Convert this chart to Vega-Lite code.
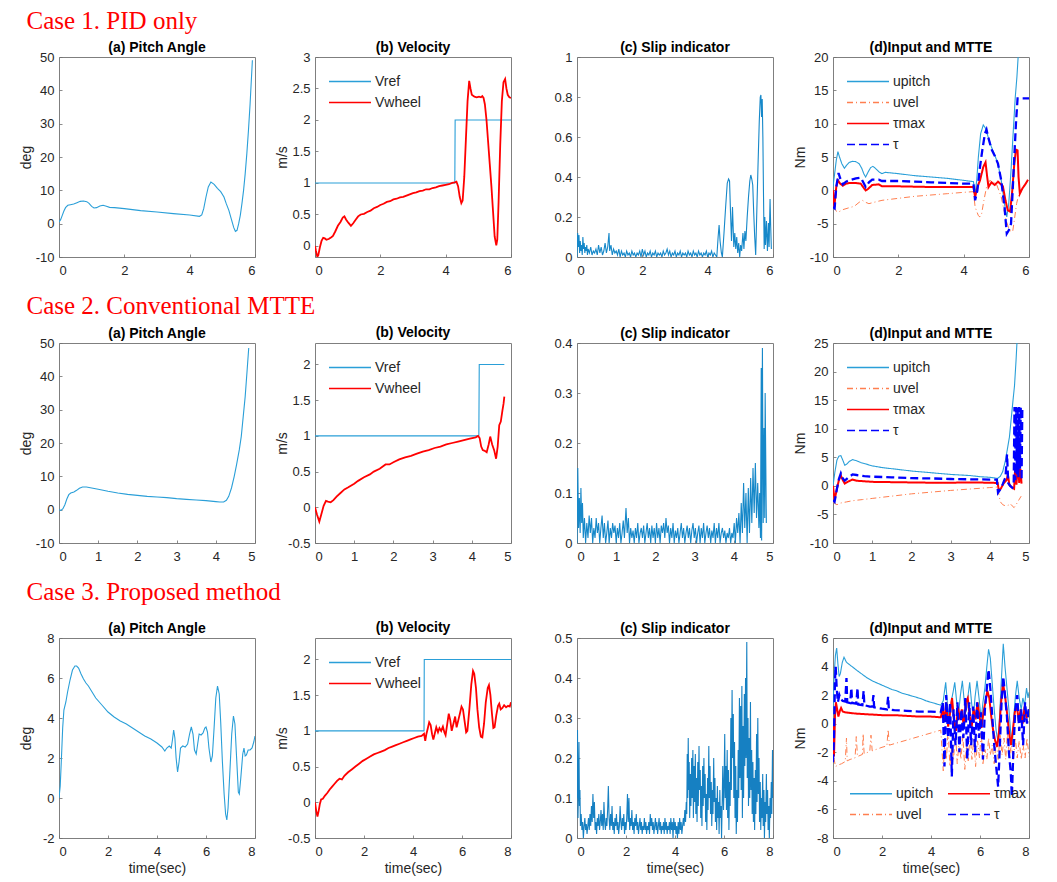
{
"$schema": "https://vega.github.io/schema/vega-lite/v6.json",
"padding": {"left": 18, "top": 8, "right": 5, "bottom": 3},
"background": "white",
"config": {
 "locale": {"number": {"decimal": ".", "thousands": ",", "grouping": [3], "currency": ["$", ""], "minus": "-"}},
 "view": {"stroke": "#7f7f7f", "strokeWidth": 1},
 "axis": {"grid": false, "domain": false, "labelOverlap": false, "tickSize": -3, "tickColor": "#6f6f6f", "tickWidth": 0.8, "labelFont": "Liberation Sans", "labelFontSize": 13, "labelColor": "#262626", "titleFont": "Liberation Sans", "titleFontSize": 14, "titleFontWeight": "normal", "titleColor": "#262626"},
 "axisX": {"labelPadding": 10, "titlePadding": 3},
 "axisY": {"labelPadding": 8, "titlePadding": 1, "minExtent": 25, "maxExtent": 25},
 "title": {"font": "Liberation Sans", "fontSize": 14, "fontWeight": "bold", "color": "#000000", "offset": -4, "frame": "group"},
 "legend": {"symbolType": "M-1,0H3", "symbolSize": 441, "symbolStrokeWidth": 1.6, "labelFont": "Liberation Sans", "labelFontSize": 14, "labelColor": "#262626", "rowPadding": 2, "columnPadding": 10, "labelOffset": 24, "padding": 0, "offset": 13}
},
"datasets": {
 "c1a": [{"t":0,"v":0.5},{"t":0.05,"v":1.2},{"t":0.1,"v":2.5},{"t":0.15,"v":3.8},{"t":0.2,"v":4.8},{"t":0.27,"v":5.5},{"t":0.35,"v":5.7},{"t":0.45,"v":5.9},{"t":0.55,"v":6.3},{"t":0.65,"v":6.7},{"t":0.75,"v":6.8},{"t":0.85,"v":6.6},{"t":0.92,"v":6.1},{"t":1.0,"v":5.2},{"t":1.07,"v":4.7},{"t":1.15,"v":4.8},{"t":1.25,"v":5.3},{"t":1.35,"v":5.5},{"t":1.45,"v":5.2},{"t":1.55,"v":4.9},{"t":1.7,"v":4.8},{"t":2.0,"v":4.5},{"t":2.5,"v":3.9},{"t":3.0,"v":3.5},{"t":3.5,"v":3.0},{"t":4.0,"v":2.6},{"t":4.3,"v":2.2},{"t":4.37,"v":2.6},{"t":4.43,"v":4.5},{"t":4.5,"v":8},{"t":4.57,"v":11},{"t":4.65,"v":12.5},{"t":4.75,"v":11.8},{"t":4.85,"v":10.6},{"t":4.95,"v":9.6},{"t":5.05,"v":8},{"t":5.12,"v":6},{"t":5.2,"v":4},{"t":5.28,"v":1.2},{"t":5.35,"v":-1.2},{"t":5.4,"v":-2.3},{"t":5.45,"v":-2},{"t":5.5,"v":0},{"t":5.55,"v":2.5},{"t":5.6,"v":6},{"t":5.65,"v":10},{"t":5.7,"v":15},{"t":5.75,"v":21},{"t":5.8,"v":28},{"t":5.85,"v":36},{"t":5.92,"v":49}],
 "c1vr": [{"t":0,"v":1},{"t":4.28,"v":1},{"t":4.29,"v":2},{"t":6,"v":2}],
 "c1vw": [{"t":0,"v":0},{"t":0.03,"v":-0.08},{"t":0.07,"v":-0.17},{"t":0.1,"v":-0.15},{"t":0.15,"v":-0.02},{"t":0.2,"v":0.08},{"t":0.25,"v":0.13},{"t":0.3,"v":0.12},{"t":0.35,"v":0.1},{"t":0.42,"v":0.11},{"t":0.5,"v":0.14},{"t":0.55,"v":0.16},{"t":0.62,"v":0.23},{"t":0.7,"v":0.32},{"t":0.78,"v":0.38},{"t":0.85,"v":0.45},{"t":0.9,"v":0.47},{"t":0.95,"v":0.42},{"t":1.02,"v":0.37},{"t":1.1,"v":0.32},{"t":1.17,"v":0.36},{"t":1.25,"v":0.42},{"t":1.32,"v":0.47},{"t":1.4,"v":0.5},{"t":1.5,"v":0.51},{"t":1.6,"v":0.54},{"t":1.7,"v":0.56},{"t":1.8,"v":0.6},{"t":1.9,"v":0.62},{"t":2.0,"v":0.65},{"t":2.1,"v":0.67},{"t":2.2,"v":0.7},{"t":2.3,"v":0.71},{"t":2.4,"v":0.74},{"t":2.5,"v":0.75},{"t":2.6,"v":0.77},{"t":2.7,"v":0.78},{"t":2.8,"v":0.8},{"t":2.9,"v":0.82},{"t":3.0,"v":0.84},{"t":3.1,"v":0.85},{"t":3.2,"v":0.87},{"t":3.3,"v":0.88},{"t":3.4,"v":0.9},{"t":3.5,"v":0.9},{"t":3.6,"v":0.92},{"t":3.7,"v":0.93},{"t":3.8,"v":0.95},{"t":3.9,"v":0.96},{"t":4.0,"v":0.97},{"t":4.1,"v":0.98},{"t":4.2,"v":1.0},{"t":4.28,"v":1.01},{"t":4.33,"v":1.02},{"t":4.38,"v":0.95},{"t":4.43,"v":0.78},{"t":4.48,"v":0.68},{"t":4.52,"v":0.72},{"t":4.57,"v":1.1},{"t":4.62,"v":1.7},{"t":4.67,"v":2.3},{"t":4.72,"v":2.62},{"t":4.76,"v":2.5},{"t":4.8,"v":2.4},{"t":4.88,"v":2.37},{"t":4.95,"v":2.36},{"t":5.02,"v":2.37},{"t":5.08,"v":2.36},{"t":5.12,"v":2.38},{"t":5.16,"v":2.35},{"t":5.2,"v":2.25},{"t":5.25,"v":2.0},{"t":5.3,"v":1.65},{"t":5.35,"v":1.3},{"t":5.4,"v":0.95},{"t":5.45,"v":0.55},{"t":5.5,"v":0.15},{"t":5.55,"v":0.01},{"t":5.58,"v":0.1},{"t":5.62,"v":0.7},{"t":5.67,"v":1.6},{"t":5.72,"v":2.3},{"t":5.77,"v":2.6},{"t":5.82,"v":2.65},{"t":5.86,"v":2.5},{"t":5.9,"v":2.4},{"t":5.95,"v":2.36},{"t":6.0,"v":2.35}],
 "c1s": [{"t":0,"v":0},{"t":0.02,"v":0.12},{"t":0.04,"v":0.05},{"t":0.06,"v":0.11},{"t":0.08,"v":0.02},{"t":0.1,"v":0.08},{"t":0.12,"v":0.03},{"t":0.14,"v":0.06},{"t":0.16,"v":0.01},{"t":0.18,"v":0.1},{"t":0.2,"v":0.04},{"t":0.22,"v":0.07},{"t":0.24,"v":0.02},{"t":0.26,"v":0.05},{"t":0.28,"v":0.03},{"t":0.3,"v":0.06},{"t":0.32,"v":0.01},{"t":0.34,"v":0.04},{"t":0.38,"v":0.02},{"t":0.42,"v":0.05},{"t":0.46,"v":0.01},{"t":0.5,"v":0.03},{"t":0.54,"v":0.02},{"t":0.58,"v":0.04},{"t":0.62,"v":0.01},{"t":0.66,"v":0.06},{"t":0.7,"v":0.02},{"t":0.74,"v":0.05},{"t":0.78,"v":0.01},{"t":0.82,"v":0.03},{"t":0.86,"v":0.07},{"t":0.9,"v":0.02},{"t":0.94,"v":0.05},{"t":0.98,"v":0.12},{"t":1.0,"v":0.03},{"t":1.04,"v":0.06},{"t":1.08,"v":0.01},{"t":1.12,"v":0.04},{"t":1.16,"v":0.02},{"t":1.2,"v":0.03},{"t":1.24,"v":0.01},{"t":1.28,"v":0.04},{"t":1.32,"v":0},{"t":1.36,"v":0.03},{"t":1.4,"v":0.01},{"t":1.44,"v":0.02},{"t":1.48,"v":0},{"t":1.52,"v":0.03},{"t":1.56,"v":0.01},{"t":1.6,"v":0.02},{"t":1.64,"v":0},{"t":1.68,"v":0.03},{"t":1.72,"v":0.01},{"t":1.76,"v":0.02},{"t":1.8,"v":0},{"t":1.84,"v":0.02},{"t":1.88,"v":0.01},{"t":1.92,"v":0.03},{"t":1.96,"v":0},{"t":2.0,"v":0.04},{"t":2.04,"v":0.01},{"t":2.08,"v":0.03},{"t":2.12,"v":0},{"t":2.16,"v":0.02},{"t":2.2,"v":0.01},{"t":2.24,"v":0.03},{"t":2.28,"v":0},{"t":2.32,"v":0.02},{"t":2.36,"v":0.01},{"t":2.4,"v":0.03},{"t":2.44,"v":0},{"t":2.48,"v":0.02},{"t":2.52,"v":0.01},{"t":2.56,"v":0.02},{"t":2.6,"v":0},{"t":2.64,"v":0.03},{"t":2.68,"v":0.01},{"t":2.72,"v":0.02},{"t":2.76,"v":0.04},{"t":2.8,"v":0.01},{"t":2.84,"v":0.03},{"t":2.88,"v":0},{"t":2.92,"v":0.02},{"t":2.96,"v":0.01},{"t":3.0,"v":0.03},{"t":3.04,"v":0},{"t":3.08,"v":0.02},{"t":3.12,"v":0.01},{"t":3.16,"v":0.03},{"t":3.2,"v":0},{"t":3.24,"v":0.02},{"t":3.28,"v":0.01},{"t":3.32,"v":0.02},{"t":3.36,"v":0},{"t":3.4,"v":0.03},{"t":3.44,"v":0.01},{"t":3.48,"v":0.02},{"t":3.52,"v":0},{"t":3.56,"v":0.03},{"t":3.6,"v":0.01},{"t":3.64,"v":0.02},{"t":3.68,"v":0},{"t":3.72,"v":0.03},{"t":3.76,"v":0.01},{"t":3.8,"v":0.02},{"t":3.84,"v":0},{"t":3.88,"v":0.02},{"t":3.92,"v":0.01},{"t":3.96,"v":0.03},{"t":4.0,"v":0},{"t":4.04,"v":0.02},{"t":4.08,"v":0.01},{"t":4.12,"v":0.03},{"t":4.16,"v":0},{"t":4.2,"v":0.02},{"t":4.24,"v":0.01},{"t":4.28,"v":0},{"t":4.32,"v":0.1},{"t":4.35,"v":0.16},{"t":4.38,"v":0.08},{"t":4.42,"v":0.02},{"t":4.45,"v":0},{"t":4.5,"v":0.12},{"t":4.55,"v":0.25},{"t":4.6,"v":0.37},{"t":4.64,"v":0.39},{"t":4.67,"v":0.38},{"t":4.7,"v":0.22},{"t":4.73,"v":0.08},{"t":4.76,"v":0.25},{"t":4.78,"v":0.15},{"t":4.8,"v":0.05},{"t":4.83,"v":0.12},{"t":4.86,"v":0.04},{"t":4.89,"v":0.1},{"t":4.92,"v":0.02},{"t":4.95,"v":0.07},{"t":4.98,"v":0},{"t":5.01,"v":0.06},{"t":5.04,"v":0.03},{"t":5.08,"v":0.12},{"t":5.11,"v":0.04},{"t":5.14,"v":0.13},{"t":5.17,"v":0.08},{"t":5.21,"v":0.2},{"t":5.25,"v":0.3},{"t":5.29,"v":0.38},{"t":5.32,"v":0.41},{"t":5.35,"v":0.39},{"t":5.38,"v":0.36},{"t":5.41,"v":0.22},{"t":5.44,"v":0.1},{"t":5.47,"v":0.01},{"t":5.5,"v":0.2},{"t":5.54,"v":0.45},{"t":5.58,"v":0.68},{"t":5.61,"v":0.8},{"t":5.63,"v":0.81},{"t":5.65,"v":0.7},{"t":5.67,"v":0.79},{"t":5.69,"v":0.6},{"t":5.71,"v":0.3},{"t":5.73,"v":0.04},{"t":5.75,"v":0.2},{"t":5.77,"v":0.06},{"t":5.8,"v":0.18},{"t":5.83,"v":0.03},{"t":5.86,"v":0.17},{"t":5.88,"v":0.05},{"t":5.91,"v":0.29},{"t":5.93,"v":0.15},{"t":5.95,"v":0.04}],
 "c1up": [{"t":0,"v":0.5},{"t":0.05,"v":2.5},{"t":0.1,"v":4.5},{"t":0.15,"v":5.8},{"t":0.2,"v":5.0},{"t":0.27,"v":4.0},{"t":0.35,"v":3.3},{"t":0.42,"v":3.8},{"t":0.5,"v":4.2},{"t":0.6,"v":4.35},{"t":0.7,"v":4.3},{"t":0.8,"v":4.0},{"t":0.88,"v":3.3},{"t":0.95,"v":2.4},{"t":1.0,"v":2.0},{"t":1.07,"v":2.7},{"t":1.15,"v":3.4},{"t":1.22,"v":3.6},{"t":1.3,"v":3.3},{"t":1.4,"v":2.8},{"t":1.5,"v":2.5},{"t":1.6,"v":2.7},{"t":1.8,"v":2.6},{"t":2.0,"v":2.5},{"t":2.5,"v":2.2},{"t":3.0,"v":2.0},{"t":3.5,"v":1.8},{"t":4.0,"v":1.5},{"t":4.3,"v":1.3},{"t":4.35,"v":-0.5},{"t":4.4,"v":1.5},{"t":4.45,"v":5},{"t":4.52,"v":8.5},{"t":4.6,"v":9.8},{"t":4.67,"v":9.3},{"t":4.75,"v":8},{"t":4.85,"v":6.5},{"t":4.95,"v":5.3},{"t":5.05,"v":4},{"t":5.15,"v":1.5},{"t":5.25,"v":-2},{"t":5.32,"v":-4},{"t":5.38,"v":-2},{"t":5.45,"v":3},{"t":5.52,"v":9},{"t":5.58,"v":14},{"t":5.63,"v":17},{"t":5.68,"v":21},{"t":5.75,"v":26}],
 "c1uv": [{"t":0,"v":-2.5},{"t":0.08,"v":-3.0},{"t":0.15,"v":-3.3},{"t":0.3,"v":-2.9},{"t":0.5,"v":-2.6},{"t":0.65,"v":-2.4},{"t":0.8,"v":-1.8},{"t":0.9,"v":-1.5},{"t":1.0,"v":-1.8},{"t":1.1,"v":-2.0},{"t":1.25,"v":-1.8},{"t":1.5,"v":-1.5},{"t":2.0,"v":-1.2},{"t":2.5,"v":-0.9},{"t":3.0,"v":-0.7},{"t":3.5,"v":-0.5},{"t":4.0,"v":-0.3},{"t":4.3,"v":-0.2},{"t":4.35,"v":-2.5},{"t":4.45,"v":-3.8},{"t":4.5,"v":-4.0},{"t":4.55,"v":-3.5},{"t":4.62,"v":-1.5},{"t":4.7,"v":0.5},{"t":4.8,"v":1.5},{"t":5.0,"v":1.0},{"t":5.15,"v":-1},{"t":5.3,"v":-4.5},{"t":5.4,"v":-6},{"t":5.5,"v":-6.2},{"t":5.55,"v":-4.5},{"t":5.62,"v":-2},{"t":5.7,"v":-0.3}],
 "c1tm": [{"t":0,"v":0},{"t":0.04,"v":-2.5},{"t":0.1,"v":0.5},{"t":0.15,"v":1.5},{"t":0.22,"v":1.0},{"t":0.3,"v":0.7},{"t":0.4,"v":1.0},{"t":0.5,"v":1.1},{"t":0.7,"v":1.1},{"t":0.85,"v":1.0},{"t":0.95,"v":0.3},{"t":1.0,"v":0},{"t":1.07,"v":0.2},{"t":1.2,"v":0.8},{"t":1.4,"v":0.9},{"t":1.5,"v":0.6},{"t":2.0,"v":0.6},{"t":2.5,"v":0.55},{"t":3.0,"v":0.5},{"t":3.5,"v":0.5},{"t":4.0,"v":0.5},{"t":4.3,"v":0.5},{"t":4.35,"v":-1},{"t":4.42,"v":0.5},{"t":4.5,"v":1.5},{"t":4.6,"v":3.5},{"t":4.67,"v":4.2},{"t":4.72,"v":2},{"t":4.76,"v":0.5},{"t":4.85,"v":1.2},{"t":4.95,"v":0.8},{"t":5.05,"v":1.3},{"t":5.12,"v":1.0},{"t":5.2,"v":0.6},{"t":5.28,"v":-1.5},{"t":5.35,"v":-3},{"t":5.42,"v":-3.2},{"t":5.48,"v":-0.5},{"t":5.55,"v":4},{"t":5.6,"v":6.1},{"t":5.65,"v":6.0},{"t":5.68,"v":2},{"t":5.72,"v":-0.5},{"t":5.8,"v":0.3},{"t":5.9,"v":1.0},{"t":5.97,"v":1.6}],
 "c1ta": [{"t":0,"v":-2.5},{"t":0.05,"v":-2.7},{"t":0.1,"v":0.5},{"t":0.17,"v":2.6},{"t":0.22,"v":1.8},{"t":0.3,"v":0.9},{"t":0.4,"v":1.3},{"t":0.5,"v":1.5},{"t":0.7,"v":1.8},{"t":0.85,"v":1.9},{"t":0.95,"v":1.0},{"t":1.0,"v":0.5},{"t":1.1,"v":1.2},{"t":1.2,"v":1.6},{"t":1.4,"v":1.6},{"t":1.5,"v":1.4},{"t":2.0,"v":1.4},{"t":2.5,"v":1.3},{"t":3.0,"v":1.2},{"t":3.5,"v":1.1},{"t":4.0,"v":1.0},{"t":4.3,"v":1.0},{"t":4.35,"v":-1.5},{"t":4.42,"v":0},{"t":4.5,"v":3.5},{"t":4.57,"v":6},{"t":4.65,"v":8.5},{"t":4.7,"v":9.1},{"t":4.75,"v":8},{"t":4.85,"v":6.2},{"t":4.95,"v":5.2},{"t":5.05,"v":4},{"t":5.15,"v":1.5},{"t":5.25,"v":-2.5},{"t":5.32,"v":-6.5},{"t":5.38,"v":-6},{"t":5.45,"v":-5},{"t":5.5,"v":0},{"t":5.55,"v":5},{"t":5.6,"v":10},{"t":5.65,"v":13.8},{"t":6.0,"v":13.8}],
 "c2a": [{"t":0,"v":0},{"t":0.05,"v":-0.2},{"t":0.1,"v":0.3},{"t":0.15,"v":1.5},{"t":0.2,"v":3.2},{"t":0.25,"v":4.5},{"t":0.3,"v":5.0},{"t":0.38,"v":5.3},{"t":0.45,"v":5.8},{"t":0.52,"v":6.4},{"t":0.6,"v":6.8},{"t":0.7,"v":6.8},{"t":0.8,"v":6.6},{"t":1.0,"v":6.1},{"t":1.25,"v":5.5},{"t":1.5,"v":5.0},{"t":1.75,"v":4.6},{"t":2.0,"v":4.3},{"t":2.25,"v":4.0},{"t":2.5,"v":3.8},{"t":2.75,"v":3.6},{"t":3.0,"v":3.3},{"t":3.25,"v":3.1},{"t":3.5,"v":2.9},{"t":3.75,"v":2.7},{"t":4.0,"v":2.4},{"t":4.1,"v":2.3},{"t":4.2,"v":2.3},{"t":4.27,"v":2.8},{"t":4.33,"v":4},{"t":4.4,"v":6.5},{"t":4.47,"v":10},{"t":4.53,"v":13.5},{"t":4.6,"v":18},{"t":4.65,"v":22},{"t":4.7,"v":28},{"t":4.75,"v":34},{"t":4.8,"v":42},{"t":4.84,"v":48.5}],
 "c2vr": [{"t":0,"v":1},{"t":4.18,"v":1},{"t":4.19,"v":2},{"t":4.83,"v":2}],
 "c2vw": [{"t":0,"v":0},{"t":0.05,"v":-0.1},{"t":0.11,"v":-0.2},{"t":0.16,"v":-0.1},{"t":0.22,"v":0.02},{"t":0.28,"v":0.09},{"t":0.33,"v":0.08},{"t":0.4,"v":0.07},{"t":0.47,"v":0.1},{"t":0.55,"v":0.15},{"t":0.65,"v":0.2},{"t":0.75,"v":0.25},{"t":0.85,"v":0.28},{"t":1.0,"v":0.33},{"t":1.1,"v":0.37},{"t":1.25,"v":0.42},{"t":1.4,"v":0.46},{"t":1.5,"v":0.5},{"t":1.65,"v":0.54},{"t":1.8,"v":0.6},{"t":1.9,"v":0.6},{"t":2.0,"v":0.63},{"t":2.15,"v":0.67},{"t":2.3,"v":0.7},{"t":2.45,"v":0.72},{"t":2.6,"v":0.75},{"t":2.75,"v":0.78},{"t":2.9,"v":0.8},{"t":3.05,"v":0.83},{"t":3.2,"v":0.85},{"t":3.35,"v":0.88},{"t":3.5,"v":0.9},{"t":3.65,"v":0.92},{"t":3.8,"v":0.94},{"t":3.95,"v":0.96},{"t":4.1,"v":0.98},{"t":4.16,"v":1.0},{"t":4.2,"v":0.97},{"t":4.24,"v":0.85},{"t":4.28,"v":0.8},{"t":4.33,"v":0.79},{"t":4.38,"v":0.77},{"t":4.43,"v":0.88},{"t":4.47,"v":0.99},{"t":4.52,"v":0.88},{"t":4.57,"v":0.8},{"t":4.62,"v":0.68},{"t":4.66,"v":0.85},{"t":4.7,"v":1.15},{"t":4.74,"v":1.2},{"t":4.78,"v":1.35},{"t":4.81,"v":1.45},{"t":4.83,"v":1.55}],
 "c2s": [{"t":0,"v":0},{"t":0.02,"v":0.15},{"t":0.04,"v":0.03},{"t":0.06,"v":0.09},{"t":0.08,"v":0.02},{"t":0.1,"v":0.11},{"t":0.12,"v":0.04},{"t":0.14,"v":0.08},{"t":0.16,"v":0.01},{"t":0.19,"v":0.05},{"t":0.22,"v":0},{"t":0.25,"v":0.04},{"t":0.28,"v":0.01},{"t":0.31,"v":0.055},{"t":0.34,"v":0.02},{"t":0.37,"v":0.05},{"t":0.4,"v":0},{"t":0.43,"v":0.03},{"t":0.46,"v":0.01},{"t":0.49,"v":0.05},{"t":0.52,"v":0.02},{"t":0.55,"v":0.04},{"t":0.58,"v":0},{"t":0.61,"v":0.03},{"t":0.64,"v":0.055},{"t":0.67,"v":0.01},{"t":0.7,"v":0.04},{"t":0.73,"v":0},{"t":0.76,"v":0.02},{"t":0.79,"v":0.045},{"t":0.82,"v":0},{"t":0.85,"v":0.03},{"t":0.88,"v":0.01},{"t":0.91,"v":0.04},{"t":0.94,"v":0.02},{"t":0.97,"v":0.035},{"t":1.0,"v":0},{"t":1.03,"v":0.03},{"t":1.06,"v":0.01},{"t":1.09,"v":0.04},{"t":1.12,"v":0},{"t":1.15,"v":0.02},{"t":1.18,"v":0.045},{"t":1.21,"v":0.01},{"t":1.25,"v":0.07},{"t":1.28,"v":0.02},{"t":1.31,"v":0.05},{"t":1.34,"v":0},{"t":1.37,"v":0.03},{"t":1.4,"v":0.01},{"t":1.43,"v":0.025},{"t":1.46,"v":0},{"t":1.49,"v":0.03},{"t":1.52,"v":0.01},{"t":1.55,"v":0.04},{"t":1.58,"v":0},{"t":1.61,"v":0.02},{"t":1.64,"v":0.03},{"t":1.67,"v":0.01},{"t":1.7,"v":0.035},{"t":1.73,"v":0},{"t":1.76,"v":0.02},{"t":1.79,"v":0.04},{"t":1.82,"v":0.01},{"t":1.85,"v":0.03},{"t":1.88,"v":0},{"t":1.91,"v":0.035},{"t":1.94,"v":0.01},{"t":1.97,"v":0.03},{"t":2.0,"v":0},{"t":2.03,"v":0.04},{"t":2.06,"v":0.01},{"t":2.09,"v":0.03},{"t":2.12,"v":0},{"t":2.15,"v":0.035},{"t":2.18,"v":0.02},{"t":2.21,"v":0.04},{"t":2.24,"v":0.01},{"t":2.27,"v":0.05},{"t":2.3,"v":0.02},{"t":2.33,"v":0.035},{"t":2.36,"v":0},{"t":2.39,"v":0.03},{"t":2.42,"v":0.01},{"t":2.45,"v":0.04},{"t":2.48,"v":0},{"t":2.51,"v":0.025},{"t":2.54,"v":0.01},{"t":2.57,"v":0.03},{"t":2.6,"v":0},{"t":2.63,"v":0.02},{"t":2.66,"v":0.04},{"t":2.69,"v":0.01},{"t":2.72,"v":0.03},{"t":2.75,"v":0},{"t":2.78,"v":0.02},{"t":2.81,"v":0.035},{"t":2.84,"v":0.01},{"t":2.87,"v":0.03},{"t":2.9,"v":0},{"t":2.93,"v":0.025},{"t":2.96,"v":0.04},{"t":2.99,"v":0.01},{"t":3.02,"v":0.03},{"t":3.05,"v":0},{"t":3.08,"v":0.02},{"t":3.11,"v":0.035},{"t":3.14,"v":0},{"t":3.17,"v":0.03},{"t":3.2,"v":0.01},{"t":3.23,"v":0.04},{"t":3.26,"v":0},{"t":3.29,"v":0.02},{"t":3.32,"v":0.035},{"t":3.35,"v":0.01},{"t":3.38,"v":0.03},{"t":3.41,"v":0},{"t":3.44,"v":0.025},{"t":3.47,"v":0.01},{"t":3.5,"v":0.04},{"t":3.53,"v":0},{"t":3.56,"v":0.03},{"t":3.59,"v":0.01},{"t":3.62,"v":0.04},{"t":3.65,"v":0},{"t":3.68,"v":0.02},{"t":3.71,"v":0.03},{"t":3.74,"v":0.01},{"t":3.77,"v":0.025},{"t":3.8,"v":0},{"t":3.83,"v":0.02},{"t":3.86,"v":0.01},{"t":3.89,"v":0.03},{"t":3.92,"v":0},{"t":3.95,"v":0.02},{"t":3.98,"v":0.01},{"t":4.01,"v":0.04},{"t":4.04,"v":0},{"t":4.07,"v":0.05},{"t":4.1,"v":0.02},{"t":4.13,"v":0.06},{"t":4.16,"v":0},{"t":4.19,"v":0.08},{"t":4.22,"v":0.02},{"t":4.25,"v":0.12},{"t":4.28,"v":0.03},{"t":4.31,"v":0.1},{"t":4.34,"v":0},{"t":4.37,"v":0.11},{"t":4.4,"v":0.02},{"t":4.43,"v":0.13},{"t":4.46,"v":0.04},{"t":4.49,"v":0.15},{"t":4.52,"v":0.06},{"t":4.55,"v":0.16},{"t":4.58,"v":0.05},{"t":4.61,"v":0.12},{"t":4.64,"v":0.03},{"t":4.66,"v":0.1},{"t":4.68,"v":0.01},{"t":4.7,"v":0.35},{"t":4.71,"v":0.005},{"t":4.73,"v":0.39},{"t":4.75,"v":0.04},{"t":4.77,"v":0.23},{"t":4.79,"v":0.05},{"t":4.8,"v":0.3},{"t":4.83,"v":0.04}],
 "c2up": [{"t":0,"v":0},{"t":0.05,"v":2.5},{"t":0.1,"v":4.5},{"t":0.15,"v":5.2},{"t":0.2,"v":5.3},{"t":0.25,"v":4.5},{"t":0.3,"v":3.6},{"t":0.35,"v":3.8},{"t":0.42,"v":4.3},{"t":0.5,"v":4.6},{"t":0.6,"v":4.4},{"t":0.7,"v":4.1},{"t":0.85,"v":3.8},{"t":1.0,"v":3.5},{"t":1.25,"v":3.2},{"t":1.5,"v":3.0},{"t":1.75,"v":2.8},{"t":2.0,"v":2.6},{"t":2.25,"v":2.45},{"t":2.5,"v":2.3},{"t":2.75,"v":2.15},{"t":3.0,"v":2.0},{"t":3.25,"v":1.9},{"t":3.5,"v":1.8},{"t":3.75,"v":1.6},{"t":4.0,"v":1.5},{"t":4.2,"v":1.3},{"t":4.27,"v":1.7},{"t":4.33,"v":2.5},{"t":4.4,"v":4.5},{"t":4.45,"v":6.5},{"t":4.5,"v":8.5},{"t":4.55,"v":12},{"t":4.6,"v":15.5},{"t":4.63,"v":17.5},{"t":4.67,"v":22},{"t":4.7,"v":26}],
 "c2uv": [{"t":0,"v":-2.8},{"t":0.05,"v":-3.1},{"t":0.1,"v":-3.3},{"t":0.2,"v":-3.0},{"t":0.35,"v":-2.8},{"t":0.5,"v":-2.6},{"t":0.75,"v":-2.4},{"t":1.0,"v":-2.2},{"t":1.5,"v":-1.8},{"t":2.0,"v":-1.4},{"t":2.5,"v":-1.1},{"t":3.0,"v":-0.8},{"t":3.5,"v":-0.55},{"t":4.0,"v":-0.3},{"t":4.2,"v":-0.2},{"t":4.23,"v":-1.5},{"t":4.27,"v":-2.8},{"t":4.33,"v":-3.3},{"t":4.4,"v":-3.5},{"t":4.47,"v":-3.4},{"t":4.52,"v":-3.1},{"t":4.57,"v":-3.5},{"t":4.62,"v":-3.8},{"t":4.67,"v":-3.3},{"t":4.73,"v":-2.6},{"t":4.8,"v":-1.8}],
 "c2tm": [{"t":0,"v":0},{"t":0.04,"v":-2.5},{"t":0.1,"v":-0.5},{"t":0.15,"v":1.0},{"t":0.2,"v":1.8},{"t":0.25,"v":1.0},{"t":0.3,"v":0.4},{"t":0.4,"v":0.8},{"t":0.5,"v":1.1},{"t":0.6,"v":0.9},{"t":0.8,"v":0.8},{"t":1.0,"v":0.7},{"t":1.5,"v":0.65},{"t":2.0,"v":0.6},{"t":2.5,"v":0.55},{"t":3.0,"v":0.55},{"t":3.5,"v":0.6},{"t":4.0,"v":0.55},{"t":4.2,"v":0.5},{"t":4.23,"v":-0.8},{"t":4.28,"v":-0.5},{"t":4.35,"v":0.4},{"t":4.43,"v":1.0},{"t":4.46,"v":2.0},{"t":4.5,"v":0.2},{"t":4.57,"v":-0.3},{"t":4.62,"v":-0.5},{"t":4.65,"v":3.5},{"t":4.68,"v":0.2},{"t":4.72,"v":4.2},{"t":4.75,"v":0.5},{"t":4.78,"v":3},{"t":4.81,"v":0.4}],
 "c2ta": [{"t":0,"v":-2.5},{"t":0.04,"v":-2.8},{"t":0.1,"v":-0.5},{"t":0.15,"v":1.2},{"t":0.2,"v":2.2},{"t":0.25,"v":1.3},{"t":0.3,"v":0.9},{"t":0.4,"v":1.5},{"t":0.5,"v":2.0},{"t":0.6,"v":1.9},{"t":0.8,"v":1.7},{"t":1.0,"v":1.6},{"t":1.5,"v":1.5},{"t":2.0,"v":1.35},{"t":2.5,"v":1.3},{"t":3.0,"v":1.2},{"t":3.5,"v":1.15},{"t":4.0,"v":1.1},{"t":4.18,"v":1.1},{"t":4.21,"v":-1.2},{"t":4.27,"v":-0.6},{"t":4.33,"v":0.3},{"t":4.4,"v":1.5},{"t":4.44,"v":5.5},{"t":4.47,"v":0.5},{"t":4.52,"v":0},{"t":4.57,"v":-0.3},{"t":4.61,"v":0.5},{"t":4.63,"v":13.8},{"t":4.65,"v":1},{"t":4.67,"v":13.8},{"t":4.69,"v":2},{"t":4.71,"v":13.8},{"t":4.73,"v":1.5},{"t":4.75,"v":13.8},{"t":4.77,"v":3},{"t":4.79,"v":13.8},{"t":4.81,"v":1},{"t":4.83,"v":13.8}],
 "c3a": [{"t":0,"v":0},{"t":0.05,"v":0.6},{"t":0.1,"v":2.0},{"t":0.15,"v":3.5},{"t":0.2,"v":4.4},{"t":0.28,"v":4.8},{"t":0.35,"v":5.3},{"t":0.45,"v":5.9},{"t":0.55,"v":6.4},{"t":0.65,"v":6.6},{"t":0.72,"v":6.6},{"t":0.8,"v":6.5},{"t":0.9,"v":6.2},{"t":1.0,"v":5.95},{"t":1.1,"v":5.75},{"t":1.2,"v":5.6},{"t":1.35,"v":5.3},{"t":1.5,"v":5.0},{"t":1.75,"v":4.65},{"t":2.0,"v":4.3},{"t":2.25,"v":4.05},{"t":2.5,"v":3.85},{"t":2.75,"v":3.7},{"t":3.0,"v":3.5},{"t":3.25,"v":3.3},{"t":3.5,"v":3.1},{"t":3.75,"v":2.95},{"t":4.0,"v":2.75},{"t":4.2,"v":2.55},{"t":4.32,"v":2.35},{"t":4.4,"v":2.5},{"t":4.5,"v":2.6},{"t":4.58,"v":2.5},{"t":4.63,"v":2.9},{"t":4.68,"v":3.4},{"t":4.73,"v":3.0},{"t":4.78,"v":2.0},{"t":4.84,"v":1.3},{"t":4.9,"v":1.8},{"t":4.96,"v":2.5},{"t":5.05,"v":2.6},{"t":5.15,"v":2.55},{"t":5.25,"v":2.7},{"t":5.33,"v":3.2},{"t":5.4,"v":3.55},{"t":5.47,"v":3.2},{"t":5.53,"v":2.4},{"t":5.6,"v":2.2},{"t":5.66,"v":2.7},{"t":5.72,"v":3.2},{"t":5.8,"v":3.15},{"t":5.88,"v":3.25},{"t":5.95,"v":3.5},{"t":6.0,"v":3.55},{"t":6.06,"v":3.3},{"t":6.12,"v":2.5},{"t":6.2,"v":1.8},{"t":6.26,"v":2.1},{"t":6.33,"v":3.5},{"t":6.4,"v":5.0},{"t":6.47,"v":5.6},{"t":6.54,"v":5.2},{"t":6.6,"v":3.8},{"t":6.67,"v":1.8},{"t":6.74,"v":0.2},{"t":6.8,"v":-0.8},{"t":6.85,"v":-1.1},{"t":6.9,"v":-0.5},{"t":6.97,"v":1.2},{"t":7.05,"v":3.2},{"t":7.12,"v":4.1},{"t":7.18,"v":3.7},{"t":7.25,"v":2.0},{"t":7.32,"v":0.3},{"t":7.36,"v":0.2},{"t":7.42,"v":1.0},{"t":7.5,"v":2.2},{"t":7.55,"v":2.5},{"t":7.6,"v":2.1},{"t":7.65,"v":2.15},{"t":7.72,"v":2.4},{"t":7.8,"v":2.4},{"t":7.88,"v":2.5},{"t":7.95,"v":2.8},{"t":8.0,"v":3.1}],
 "c3vr": [{"t":0,"v":1},{"t":4.45,"v":1},{"t":4.46,"v":2},{"t":8,"v":2}],
 "c3vw": [{"t":0,"v":0},{"t":0.05,"v":-0.12},{"t":0.1,"v":-0.2},{"t":0.15,"v":-0.12},{"t":0.2,"v":-0.02},{"t":0.25,"v":0.04},{"t":0.32,"v":0.05},{"t":0.4,"v":0.09},{"t":0.5,"v":0.13},{"t":0.6,"v":0.18},{"t":0.7,"v":0.22},{"t":0.8,"v":0.26},{"t":0.9,"v":0.3},{"t":1.0,"v":0.33},{"t":1.1,"v":0.32},{"t":1.2,"v":0.37},{"t":1.35,"v":0.42},{"t":1.5,"v":0.46},{"t":1.65,"v":0.5},{"t":1.8,"v":0.54},{"t":1.95,"v":0.58},{"t":2.1,"v":0.61},{"t":2.25,"v":0.64},{"t":2.4,"v":0.67},{"t":2.55,"v":0.69},{"t":2.7,"v":0.71},{"t":2.85,"v":0.73},{"t":3.0,"v":0.76},{"t":3.15,"v":0.78},{"t":3.3,"v":0.8},{"t":3.45,"v":0.82},{"t":3.6,"v":0.84},{"t":3.75,"v":0.86},{"t":3.9,"v":0.88},{"t":4.05,"v":0.9},{"t":4.2,"v":0.92},{"t":4.35,"v":0.93},{"t":4.45,"v":0.96},{"t":4.5,"v":0.86},{"t":4.55,"v":0.96},{"t":4.6,"v":1.03},{"t":4.66,"v":1.12},{"t":4.72,"v":1.08},{"t":4.78,"v":0.95},{"t":4.83,"v":0.88},{"t":4.88,"v":0.95},{"t":4.95,"v":1.05},{"t":5.02,"v":0.98},{"t":5.08,"v":1.04},{"t":5.15,"v":1.0},{"t":5.22,"v":1.06},{"t":5.28,"v":0.98},{"t":5.33,"v":0.94},{"t":5.4,"v":1.1},{"t":5.46,"v":1.24},{"t":5.52,"v":1.15},{"t":5.58,"v":1.0},{"t":5.65,"v":1.1},{"t":5.72,"v":1.2},{"t":5.78,"v":1.05},{"t":5.85,"v":1.15},{"t":5.92,"v":1.25},{"t":5.98,"v":1.34},{"t":6.04,"v":1.3},{"t":6.1,"v":1.15},{"t":6.17,"v":0.98},{"t":6.22,"v":1.0},{"t":6.3,"v":1.3},{"t":6.38,"v":1.65},{"t":6.45,"v":1.84},{"t":6.5,"v":1.8},{"t":6.57,"v":1.6},{"t":6.63,"v":1.3},{"t":6.7,"v":1.05},{"t":6.77,"v":0.92},{"t":6.83,"v":0.91},{"t":6.9,"v":1.1},{"t":6.97,"v":1.4},{"t":7.05,"v":1.6},{"t":7.1,"v":1.64},{"t":7.16,"v":1.5},{"t":7.22,"v":1.25},{"t":7.28,"v":1.04},{"t":7.33,"v":1.05},{"t":7.4,"v":1.22},{"t":7.47,"v":1.35},{"t":7.52,"v":1.38},{"t":7.58,"v":1.3},{"t":7.65,"v":1.32},{"t":7.72,"v":1.36},{"t":7.8,"v":1.33},{"t":7.88,"v":1.35},{"t":7.95,"v":1.34},{"t":8.0,"v":1.4}],
 "c3s": [{"t":0,"v":0.1},{"t":0.02,"v":0.27},{"t":0.04,"v":0.05},{"t":0.06,"v":0.12},{"t":0.08,"v":0.24},{"t":0.1,"v":0.08},{"t":0.12,"v":0.12},{"t":0.14,"v":0.03},{"t":0.17,"v":0.06},{"t":0.2,"v":0.02},{"t":0.23,"v":0.04},{"t":0.26,"v":0},{"t":0.29,"v":0.03},{"t":0.32,"v":0.05},{"t":0.35,"v":0.02},{"t":0.38,"v":0.035},{"t":0.41,"v":0.01},{"t":0.44,"v":0.03},{"t":0.47,"v":0.05},{"t":0.5,"v":0.02},{"t":0.53,"v":0.06},{"t":0.56,"v":0.03},{"t":0.59,"v":0.08},{"t":0.62,"v":0.04},{"t":0.65,"v":0.11},{"t":0.68,"v":0.05},{"t":0.71,"v":0.09},{"t":0.74,"v":0.02},{"t":0.77,"v":0.04},{"t":0.8,"v":0.01},{"t":0.83,"v":0.05},{"t":0.86,"v":0.03},{"t":0.89,"v":0.06},{"t":0.92,"v":0.02},{"t":0.95,"v":0.04},{"t":0.98,"v":0.07},{"t":1.01,"v":0.03},{"t":1.04,"v":0.06},{"t":1.07,"v":0.02},{"t":1.1,"v":0.09},{"t":1.13,"v":0.04},{"t":1.16,"v":0.02},{"t":1.19,"v":0.05},{"t":1.22,"v":0.03},{"t":1.25,"v":0.07},{"t":1.28,"v":0.13},{"t":1.31,"v":0.05},{"t":1.34,"v":0.02},{"t":1.37,"v":0.06},{"t":1.4,"v":0.03},{"t":1.43,"v":0.08},{"t":1.46,"v":0.02},{"t":1.49,"v":0.04},{"t":1.52,"v":0.01},{"t":1.55,"v":0.05},{"t":1.58,"v":0.03},{"t":1.61,"v":0.06},{"t":1.64,"v":0.02},{"t":1.67,"v":0.04},{"t":1.7,"v":0.01},{"t":1.73,"v":0.03},{"t":1.76,"v":0.08},{"t":1.79,"v":0.04},{"t":1.82,"v":0.02},{"t":1.85,"v":0.05},{"t":1.88,"v":0.03},{"t":1.91,"v":0.06},{"t":1.94,"v":0.01},{"t":1.97,"v":0.04},{"t":2.0,"v":0.02},{"t":2.03,"v":0.05},{"t":2.06,"v":0.11},{"t":2.09,"v":0.04},{"t":2.12,"v":0.1},{"t":2.15,"v":0.02},{"t":2.18,"v":0.05},{"t":2.21,"v":0.03},{"t":2.24,"v":0.07},{"t":2.27,"v":0.02},{"t":2.3,"v":0.04},{"t":2.33,"v":0.01},{"t":2.36,"v":0.05},{"t":2.39,"v":0.03},{"t":2.42,"v":0.06},{"t":2.45,"v":0.02},{"t":2.48,"v":0.04},{"t":2.51,"v":0.01},{"t":2.54,"v":0.03},{"t":2.57,"v":0.05},{"t":2.6,"v":0.02},{"t":2.63,"v":0.04},{"t":2.66,"v":0.01},{"t":2.69,"v":0.03},{"t":2.72,"v":0.02},{"t":2.75,"v":0.05},{"t":2.78,"v":0.02},{"t":2.81,"v":0.04},{"t":2.84,"v":0.01},{"t":2.87,"v":0.03},{"t":2.9,"v":0.02},{"t":2.93,"v":0.04},{"t":2.96,"v":0.01},{"t":2.99,"v":0.06},{"t":3.02,"v":0.03},{"t":3.05,"v":0.05},{"t":3.08,"v":0.02},{"t":3.11,"v":0.04},{"t":3.14,"v":0.01},{"t":3.17,"v":0.03},{"t":3.2,"v":0.05},{"t":3.23,"v":0.02},{"t":3.26,"v":0.04},{"t":3.29,"v":0.01},{"t":3.32,"v":0.03},{"t":3.35,"v":0.05},{"t":3.38,"v":0.02},{"t":3.41,"v":0.04},{"t":3.44,"v":0.01},{"t":3.47,"v":0.03},{"t":3.5,"v":0.02},{"t":3.53,"v":0.04},{"t":3.56,"v":0.01},{"t":3.59,"v":0.05},{"t":3.62,"v":0.02},{"t":3.65,"v":0.04},{"t":3.68,"v":0.01},{"t":3.71,"v":0.03},{"t":3.74,"v":0.02},{"t":3.77,"v":0.04},{"t":3.8,"v":0.01},{"t":3.83,"v":0.05},{"t":3.86,"v":0.02},{"t":3.89,"v":0.04},{"t":3.92,"v":0},{"t":3.95,"v":0.05},{"t":3.98,"v":0.02},{"t":4.01,"v":0.04},{"t":4.04,"v":0.01},{"t":4.07,"v":0.03},{"t":4.1,"v":0},{"t":4.13,"v":0.04},{"t":4.16,"v":0.01},{"t":4.19,"v":0.05},{"t":4.22,"v":0.02},{"t":4.25,"v":0.04},{"t":4.28,"v":0.01},{"t":4.31,"v":0.03},{"t":4.34,"v":0.05},{"t":4.37,"v":0.03},{"t":4.4,"v":0.07},{"t":4.43,"v":0.04},{"t":4.46,"v":0.09},{"t":4.48,"v":0.06},{"t":4.5,"v":0.21},{"t":4.52,"v":0.1},{"t":4.54,"v":0.25},{"t":4.56,"v":0.12},{"t":4.58,"v":0.19},{"t":4.6,"v":0.05},{"t":4.63,"v":0.16},{"t":4.65,"v":0.08},{"t":4.68,"v":0.2},{"t":4.7,"v":0.1},{"t":4.73,"v":0.22},{"t":4.75,"v":0.05},{"t":4.78,"v":0.18},{"t":4.8,"v":0.09},{"t":4.83,"v":0.21},{"t":4.85,"v":0.06},{"t":4.88,"v":0.15},{"t":4.9,"v":0.04},{"t":4.93,"v":0.19},{"t":4.95,"v":0.08},{"t":4.98,"v":0.23},{"t":5.0,"v":0.12},{"t":5.03,"v":0.17},{"t":5.05,"v":0.05},{"t":5.08,"v":0.13},{"t":5.1,"v":0.03},{"t":5.13,"v":0.18},{"t":5.15,"v":0.08},{"t":5.18,"v":0.2},{"t":5.2,"v":0.1},{"t":5.23,"v":0.16},{"t":5.25,"v":0.04},{"t":5.28,"v":0.11},{"t":5.3,"v":0.02},{"t":5.33,"v":0.15},{"t":5.35,"v":0.07},{"t":5.38,"v":0.23},{"t":5.4,"v":0.1},{"t":5.43,"v":0.18},{"t":5.45,"v":0.06},{"t":5.48,"v":0.14},{"t":5.5,"v":0.03},{"t":5.53,"v":0.12},{"t":5.55,"v":0.06},{"t":5.58,"v":0.2},{"t":5.6,"v":0.09},{"t":5.63,"v":0.15},{"t":5.65,"v":0.04},{"t":5.68,"v":0.1},{"t":5.7,"v":0.02},{"t":5.73,"v":0.13},{"t":5.75,"v":0.05},{"t":5.78,"v":0.09},{"t":5.8,"v":0.01},{"t":5.83,"v":0.12},{"t":5.85,"v":0.05},{"t":5.88,"v":0.08},{"t":5.9,"v":0},{"t":5.93,"v":0.1},{"t":5.95,"v":0.18},{"t":5.98,"v":0.07},{"t":6.0,"v":0.12},{"t":6.03,"v":0.26},{"t":6.05,"v":0.1},{"t":6.08,"v":0.18},{"t":6.1,"v":0.07},{"t":6.13,"v":0.22},{"t":6.15,"v":0.05},{"t":6.18,"v":0.17},{"t":6.2,"v":0.02},{"t":6.23,"v":0.14},{"t":6.25,"v":0.08},{"t":6.28,"v":0.3},{"t":6.3,"v":0.12},{"t":6.33,"v":0.37},{"t":6.35,"v":0.2},{"t":6.38,"v":0.31},{"t":6.4,"v":0.1},{"t":6.43,"v":0.24},{"t":6.45,"v":0.05},{"t":6.48,"v":0.18},{"t":6.5,"v":0.01},{"t":6.53,"v":0.12},{"t":6.55,"v":0.04},{"t":6.58,"v":0.22},{"t":6.6,"v":0.1},{"t":6.63,"v":0.35},{"t":6.65,"v":0.15},{"t":6.68,"v":0.33},{"t":6.7,"v":0.12},{"t":6.73,"v":0.38},{"t":6.75,"v":0.05},{"t":6.78,"v":0.28},{"t":6.8,"v":0.1},{"t":6.83,"v":0.36},{"t":6.85,"v":0.18},{"t":6.88,"v":0.4},{"t":6.9,"v":0.2},{"t":6.93,"v":0.49},{"t":6.95,"v":0.15},{"t":6.98,"v":0.3},{"t":7.0,"v":0.08},{"t":7.03,"v":0.25},{"t":7.05,"v":0.1},{"t":7.08,"v":0.34},{"t":7.1,"v":0.12},{"t":7.13,"v":0.22},{"t":7.15,"v":0.06},{"t":7.18,"v":0.19},{"t":7.2,"v":0.04},{"t":7.23,"v":0.15},{"t":7.25,"v":0.02},{"t":7.28,"v":0.17},{"t":7.3,"v":0.06},{"t":7.33,"v":0.26},{"t":7.35,"v":0.09},{"t":7.38,"v":0.3},{"t":7.4,"v":0.11},{"t":7.43,"v":0.2},{"t":7.45,"v":0.04},{"t":7.48,"v":0.14},{"t":7.5,"v":0.02},{"t":7.53,"v":0.1},{"t":7.55,"v":0.05},{"t":7.58,"v":0.16},{"t":7.6,"v":0.03},{"t":7.63,"v":0.12},{"t":7.65,"v":0},{"t":7.68,"v":0.09},{"t":7.7,"v":0.04},{"t":7.73,"v":0.16},{"t":7.75,"v":0.06},{"t":7.78,"v":0.12},{"t":7.8,"v":0.02},{"t":7.83,"v":0.08},{"t":7.85,"v":0},{"t":7.88,"v":0.1},{"t":7.9,"v":0.05},{"t":7.93,"v":0.14},{"t":7.95,"v":0.06},{"t":7.98,"v":0.22},{"t":8.0,"v":0.1}],
 "c3up": [{"t":0,"v":1.0},{"t":0.05,"v":3.5},{"t":0.1,"v":4.8},{"t":0.15,"v":5.3},{"t":0.2,"v":4.2},{"t":0.25,"v":3.3},{"t":0.3,"v":3.5},{"t":0.38,"v":4.3},{"t":0.45,"v":4.65},{"t":0.55,"v":4.3},{"t":0.7,"v":4.1},{"t":0.85,"v":3.9},{"t":1.0,"v":3.7},{"t":1.2,"v":3.45},{"t":1.4,"v":3.2},{"t":1.6,"v":3.0},{"t":1.8,"v":2.85},{"t":2.0,"v":2.7},{"t":2.2,"v":2.55},{"t":2.4,"v":2.4},{"t":2.6,"v":2.3},{"t":2.8,"v":2.15},{"t":3.0,"v":2.05},{"t":3.2,"v":1.95},{"t":3.4,"v":1.85},{"t":3.6,"v":1.75},{"t":3.8,"v":1.6},{"t":4.0,"v":1.5},{"t":4.2,"v":1.4},{"t":4.4,"v":1.3},{"t":4.5,"v":1.6},{"t":4.6,"v":2.9},{"t":4.68,"v":1.2},{"t":4.75,"v":0.3},{"t":4.82,"v":1.5},{"t":4.9,"v":2.2},{"t":4.97,"v":2.9},{"t":5.05,"v":1.5},{"t":5.12,"v":0.6},{"t":5.2,"v":2.0},{"t":5.28,"v":3.0},{"t":5.36,"v":1.5},{"t":5.43,"v":0.8},{"t":5.5,"v":1.8},{"t":5.58,"v":2.9},{"t":5.66,"v":1.4},{"t":5.73,"v":0.5},{"t":5.8,"v":1.9},{"t":5.88,"v":3.0},{"t":5.96,"v":1.8},{"t":6.05,"v":0.3},{"t":6.12,"v":1.5},{"t":6.2,"v":2.5},{"t":6.28,"v":4.0},{"t":6.35,"v":5.2},{"t":6.42,"v":4.6},{"t":6.5,"v":2.8},{"t":6.58,"v":1.0},{"t":6.66,"v":-0.5},{"t":6.74,"v":-1.3},{"t":6.8,"v":0.5},{"t":6.87,"v":3.0},{"t":6.95,"v":5.6},{"t":7.02,"v":4.0},{"t":7.1,"v":2.5},{"t":7.18,"v":1.0},{"t":7.26,"v":-0.8},{"t":7.32,"v":-1.5},{"t":7.38,"v":0.5},{"t":7.45,"v":2.0},{"t":7.52,"v":3.0},{"t":7.6,"v":1.8},{"t":7.68,"v":1.0},{"t":7.75,"v":1.8},{"t":7.82,"v":1.3},{"t":7.9,"v":2.5},{"t":7.96,"v":1.8},{"t":8.0,"v":2.2}],
 "c3uv": [{"t":0,"v":-1.5},{"t":0.05,"v":-2.5},{"t":0.1,"v":-3.0},{"t":0.2,"v":-2.9},{"t":0.35,"v":-2.8},{"t":0.5,"v":-2.65},{"t":0.55,"v":-1.0},{"t":0.58,"v":-2.6},{"t":0.7,"v":-2.5},{"t":0.9,"v":-2.4},{"t":0.95,"v":-0.9},{"t":1.0,"v":-2.3},{"t":1.2,"v":-2.15},{"t":1.23,"v":-0.7},{"t":1.27,"v":-2.1},{"t":1.5,"v":-1.95},{"t":1.55,"v":-0.8},{"t":1.6,"v":-1.9},{"t":2.0,"v":-1.65},{"t":2.2,"v":-1.55},{"t":2.25,"v":-0.4},{"t":2.3,"v":-1.5},{"t":2.5,"v":-1.4},{"t":3.0,"v":-1.15},{"t":3.5,"v":-0.9},{"t":4.0,"v":-0.65},{"t":4.4,"v":-0.45},{"t":4.5,"v":-3.3},{"t":4.57,"v":-1.0},{"t":4.63,"v":-2.5},{"t":4.7,"v":-0.3},{"t":4.77,"v":-3.0},{"t":4.85,"v":-1.5},{"t":4.92,"v":-2.5},{"t":5.0,"v":-0.5},{"t":5.07,"v":-2.8},{"t":5.15,"v":-1.2},{"t":5.22,"v":-2.5},{"t":5.3,"v":-0.8},{"t":5.38,"v":-3.2},{"t":5.45,"v":-1.5},{"t":5.52,"v":-2.6},{"t":5.6,"v":-0.7},{"t":5.67,"v":-2.5},{"t":5.75,"v":-1.0},{"t":5.82,"v":-3.0},{"t":5.9,"v":-1.2},{"t":5.98,"v":-2.4},{"t":6.05,"v":-0.5},{"t":6.12,"v":-2.8},{"t":6.2,"v":-1.8},{"t":6.28,"v":-2.5},{"t":6.35,"v":-1.0},{"t":6.42,"v":-2.2},{"t":6.5,"v":-1.5},{"t":6.58,"v":-2.8},{"t":6.66,"v":-1.2},{"t":6.74,"v":-2.5},{"t":6.82,"v":-0.8},{"t":6.9,"v":-2.2},{"t":6.98,"v":-1.0},{"t":7.05,"v":-2.5},{"t":7.12,"v":-0.6},{"t":7.2,"v":-2.3},{"t":7.28,"v":-1.5},{"t":7.36,"v":-2.6},{"t":7.44,"v":-1.0},{"t":7.52,"v":-2.4},{"t":7.6,"v":-1.2},{"t":7.68,"v":-2.5},{"t":7.76,"v":-1.5},{"t":7.84,"v":-2.4},{"t":7.92,"v":-1.0},{"t":8.0,"v":-2.3}],
 "c3tm": [{"t":0,"v":0},{"t":0.04,"v":-2.3},{"t":0.08,"v":0.5},{"t":0.12,"v":1.5},{"t":0.17,"v":1.0},{"t":0.22,"v":0.5},{"t":0.28,"v":0.9},{"t":0.33,"v":1.1},{"t":0.4,"v":0.85},{"t":0.5,"v":0.8},{"t":0.7,"v":0.75},{"t":1.0,"v":0.7},{"t":1.5,"v":0.65},{"t":2.0,"v":0.6},{"t":2.5,"v":0.6},{"t":3.0,"v":0.55},{"t":3.5,"v":0.5},{"t":4.0,"v":0.5},{"t":4.4,"v":0.45},{"t":4.48,"v":1.0},{"t":4.55,"v":0.2},{"t":4.62,"v":1.5},{"t":4.7,"v":-0.2},{"t":4.78,"v":0.8},{"t":4.86,"v":1.8},{"t":4.94,"v":0.2},{"t":5.02,"v":-0.5},{"t":5.1,"v":1.2},{"t":5.18,"v":0.3},{"t":5.26,"v":1.0},{"t":5.34,"v":-0.3},{"t":5.42,"v":1.5},{"t":5.5,"v":1.8},{"t":5.58,"v":0.5},{"t":5.66,"v":-0.2},{"t":5.74,"v":1.0},{"t":5.82,"v":0.3},{"t":5.9,"v":1.5},{"t":5.98,"v":0.5},{"t":6.06,"v":-0.3},{"t":6.14,"v":0.8},{"t":6.22,"v":1.5},{"t":6.3,"v":2.3},{"t":6.38,"v":1.8},{"t":6.46,"v":0.5},{"t":6.54,"v":-0.5},{"t":6.62,"v":-1.2},{"t":6.7,"v":-1.6},{"t":6.78,"v":-0.5},{"t":6.86,"v":1.5},{"t":6.94,"v":2.8},{"t":7.02,"v":2.0},{"t":7.1,"v":0.8},{"t":7.18,"v":-0.5},{"t":7.26,"v":-1.5},{"t":7.34,"v":-0.5},{"t":7.42,"v":0.8},{"t":7.5,"v":1.3},{"t":7.58,"v":0.2},{"t":7.66,"v":1.0},{"t":7.74,"v":0},{"t":7.82,"v":1.2},{"t":7.9,"v":0.4},{"t":8.0,"v":1.0}],
 "c3ta": [{"t":0,"v":-2.7},{"t":0.04,"v":-1.0},{"t":0.08,"v":3.0},{"t":0.11,"v":4.0},{"t":0.15,"v":2.5},{"t":0.2,"v":1.5},{"t":0.26,"v":2.0},{"t":0.32,"v":1.7},{"t":0.4,"v":1.6},{"t":0.5,"v":1.55},{"t":0.55,"v":3.2},{"t":0.58,"v":1.5},{"t":0.7,"v":1.45},{"t":0.75,"v":2.5},{"t":0.78,"v":1.45},{"t":0.95,"v":1.4},{"t":1.0,"v":2.5},{"t":1.03,"v":1.35},{"t":1.2,"v":1.3},{"t":1.25,"v":2.3},{"t":1.28,"v":1.3},{"t":1.5,"v":1.2},{"t":1.6,"v":1.2},{"t":1.65,"v":2.0},{"t":1.68,"v":1.15},{"t":2.0,"v":1.05},{"t":2.2,"v":1.0},{"t":2.25,"v":1.9},{"t":2.28,"v":1.0},{"t":2.5,"v":0.95},{"t":3.0,"v":0.9},{"t":3.5,"v":0.85},{"t":4.0,"v":0.85},{"t":4.4,"v":0.8},{"t":4.48,"v":1.5},{"t":4.55,"v":-3.0},{"t":4.62,"v":2.0},{"t":4.7,"v":-1.0},{"t":4.78,"v":1.5},{"t":4.85,"v":-3.7},{"t":4.92,"v":1.0},{"t":5.0,"v":-1.5},{"t":5.08,"v":1.5},{"t":5.16,"v":-2.0},{"t":5.24,"v":1.0},{"t":5.32,"v":-1.0},{"t":5.4,"v":1.8},{"t":5.48,"v":-2.5},{"t":5.56,"v":1.5},{"t":5.64,"v":-1.5},{"t":5.72,"v":1.2},{"t":5.8,"v":-2.0},{"t":5.88,"v":1.5},{"t":5.96,"v":-1.0},{"t":6.04,"v":0.8},{"t":6.12,"v":-2.5},{"t":6.2,"v":1.0},{"t":6.28,"v":2.5},{"t":6.35,"v":3.8},{"t":6.42,"v":2.5},{"t":6.5,"v":0.5},{"t":6.58,"v":-1.5},{"t":6.66,"v":-3.0},{"t":6.74,"v":-4.4},{"t":6.8,"v":-2.0},{"t":6.88,"v":1.5},{"t":6.95,"v":3.3},{"t":7.02,"v":2.0},{"t":7.1,"v":0.5},{"t":7.18,"v":-2.0},{"t":7.26,"v":-3.5},{"t":7.3,"v":-5.1},{"t":7.36,"v":-2.0},{"t":7.44,"v":1.0},{"t":7.52,"v":2.0},{"t":7.6,"v":-0.5},{"t":7.68,"v":1.0},{"t":7.76,"v":-1.5},{"t":7.84,"v":1.5},{"t":7.92,"v":0},{"t":8.0,"v":1.2}]
},
"resolve": {"scale": {"color": "independent", "strokeDash": "independent"}, "legend": {"color": "independent", "strokeDash": "independent"}},
"spacing": 15,
"vconcat": [
 {
  "title": {"text": "Case 1. PID only", "anchor": "start", "font": "Liberation Serif", "fontSize": 25, "fontWeight": "normal", "color": "#ff0000", "offset": 7, "dx": 8, "frame": "bounds"},
  "spacing": 18,
  "resolve": {"scale": {"color": "independent", "strokeDash": "independent"}, "legend": {"color": "independent", "strokeDash": "independent"}},
  "hconcat": [
   {"width": 196, "height": 200, "title": "(a) Pitch Angle", "data": {"name": "c1a"},
    "mark": {"type": "line", "color": "#2a9fd8", "strokeWidth": 1.1, "clip": true},
    "encoding": {
     "x": {"field": "t", "type": "quantitative", "scale": {"domain": [0, 6], "nice": false}, "axis": {"values": [0, 2, 4, 6], "title": null, "format": "~f", "labelOverlap": false}},
     "y": {"field": "v", "type": "quantitative", "scale": {"domain": [-10, 50], "nice": false}, "axis": {"values": [-10, 0, 10, 20, 30, 40, 50], "title": "deg", "format": "~f", "labelOverlap": false}}}},
   {"width": 196, "height": 200, "title": "(b) Velocity",
    "encoding": {
     "x": {"field": "t", "type": "quantitative", "scale": {"domain": [0, 6], "nice": false}, "axis": {"values": [0, 2, 4, 6], "title": null, "format": "~f", "labelOverlap": false}},
     "y": {"field": "v", "type": "quantitative", "scale": {"domain": [-0.175, 3], "nice": false}, "axis": {"values": [0, 0.5, 1, 1.5, 2, 2.5, 3], "title": "m/s", "format": "~f", "labelOverlap": false}}},
    "layer": [
     {"data": {"name": "c1vr"}, "mark": {"type": "line", "clip": true, "strokeWidth": 1.1},
      "encoding": {"color": {"datum": "Vref", "type": "nominal", "scale": {"domain": ["Vref", "Vwheel"], "range": ["#2a9fd8", "#ff0000"]}, "legend": {"title": null, "orient": "top-left"}}}},
     {"data": {"name": "c1vw"}, "mark": {"type": "line", "clip": true, "strokeWidth": 1.8},
      "encoding": {"color": {"datum": "Vwheel", "type": "nominal"}}}
    ]},
   {"width": 196, "height": 200, "title": "(c) Slip indicator", "data": {"name": "c1s"},
    "mark": {"type": "line", "color": "#1688c9", "strokeWidth": 1.1, "clip": true},
    "encoding": {
     "x": {"field": "t", "type": "quantitative", "scale": {"domain": [0, 6], "nice": false}, "axis": {"values": [0, 2, 4, 6], "title": null, "format": "~f", "labelOverlap": false}},
     "y": {"field": "v", "type": "quantitative", "scale": {"domain": [0, 1], "nice": false}, "axis": {"values": [0, 0.2, 0.4, 0.6, 0.8, 1], "title": null, "format": "~f", "labelOverlap": false, "minExtent": 46, "maxExtent": 46}}}},
   {"width": 196, "height": 200, "title": "(d)Input and MTTE",
    "encoding": {
     "x": {"field": "t", "type": "quantitative", "scale": {"domain": [0, 6], "nice": false}, "axis": {"values": [0, 2, 4, 6], "title": null, "format": "~f", "labelOverlap": false}},
     "y": {"field": "v", "type": "quantitative", "scale": {"domain": [-10, 20], "nice": false}, "axis": {"values": [-10, -5, 0, 5, 10, 15, 20], "title": "Nm", "format": "~f", "labelOverlap": false}}},
    "layer": [
     {"data": {"name": "c1up"}, "mark": {"type": "line", "clip": true, "strokeWidth": 1.1},
      "encoding": {
       "color": {"datum": "upitch", "type": "nominal", "scale": {"domain": ["upitch", "uvel", "τmax", "τ"], "range": ["#2a9fd8", "#ff7f50", "#ff0000", "#0000ff"]}, "legend": {"title": null, "orient": "top-left"}},
       "strokeDash": {"datum": "upitch", "type": "nominal", "scale": {"domain": ["upitch", "uvel", "τmax", "τ"], "range": [[1, 0], [6, 3, 1, 3], [1, 0], [8, 4]]}, "legend": {"title": null, "orient": "top-left"}}}},
     {"data": {"name": "c1uv"}, "mark": {"type": "line", "clip": true, "strokeWidth": 1},
      "encoding": {"color": {"datum": "uvel", "type": "nominal"}, "strokeDash": {"datum": "uvel", "type": "nominal"}}},
     {"data": {"name": "c1tm"}, "mark": {"type": "line", "clip": true, "strokeWidth": 2},
      "encoding": {"color": {"datum": "τmax", "type": "nominal"}, "strokeDash": {"datum": "τmax", "type": "nominal"}}},
     {"data": {"name": "c1ta"}, "mark": {"type": "line", "clip": true, "strokeWidth": 2.3},
      "encoding": {"color": {"datum": "τ", "type": "nominal"}, "strokeDash": {"datum": "τ", "type": "nominal"}}}
    ]}
  ]
 },
 {
  "title": {"text": "Case 2. Conventional MTTE", "anchor": "start", "font": "Liberation Serif", "fontSize": 25, "fontWeight": "normal", "color": "#ff0000", "offset": 7, "dx": 8, "frame": "bounds"},
  "spacing": 18,
  "resolve": {"scale": {"color": "independent", "strokeDash": "independent"}, "legend": {"color": "independent", "strokeDash": "independent"}},
  "hconcat": [
   {"width": 196, "height": 200, "title": "(a) Pitch Angle", "data": {"name": "c2a"},
    "mark": {"type": "line", "color": "#2a9fd8", "strokeWidth": 1.1, "clip": true},
    "encoding": {
     "x": {"field": "t", "type": "quantitative", "scale": {"domain": [0, 5], "nice": false}, "axis": {"values": [0, 1, 2, 3, 4, 5], "title": null, "format": "~f", "labelOverlap": false}},
     "y": {"field": "v", "type": "quantitative", "scale": {"domain": [-10, 50], "nice": false}, "axis": {"values": [-10, 0, 10, 20, 30, 40, 50], "title": "deg", "format": "~f", "labelOverlap": false}}}},
   {"width": 196, "height": 200, "title": {"text": "(b) Velocity", "offset": 3},
    "encoding": {
     "x": {"field": "t", "type": "quantitative", "scale": {"domain": [0, 5], "nice": false}, "axis": {"values": [0, 1, 2, 3, 4, 5], "title": null, "format": "~f", "labelOverlap": false}},
     "y": {"field": "v", "type": "quantitative", "scale": {"domain": [-0.5, 2.3], "nice": false}, "axis": {"values": [-0.5, 0, 0.5, 1, 1.5, 2], "title": "m/s", "format": "~f", "labelOverlap": false}}},
    "layer": [
     {"data": {"name": "c2vr"}, "mark": {"type": "line", "clip": true, "strokeWidth": 1.1},
      "encoding": {"color": {"datum": "Vref", "type": "nominal", "scale": {"domain": ["Vref", "Vwheel"], "range": ["#2a9fd8", "#ff0000"]}, "legend": {"title": null, "orient": "top-left"}}}},
     {"data": {"name": "c2vw"}, "mark": {"type": "line", "clip": true, "strokeWidth": 1.8},
      "encoding": {"color": {"datum": "Vwheel", "type": "nominal"}}}
    ]},
   {"width": 196, "height": 200, "title": "(c) Slip indicator", "data": {"name": "c2s"},
    "mark": {"type": "line", "color": "#1688c9", "strokeWidth": 1.1, "clip": true},
    "encoding": {
     "x": {"field": "t", "type": "quantitative", "scale": {"domain": [0, 5], "nice": false}, "axis": {"values": [0, 1, 2, 3, 4, 5], "title": null, "format": "~f", "labelOverlap": false}},
     "y": {"field": "v", "type": "quantitative", "scale": {"domain": [0, 0.4], "nice": false}, "axis": {"values": [0, 0.1, 0.2, 0.3, 0.4], "title": null, "format": "~f", "labelOverlap": false, "minExtent": 46, "maxExtent": 46}}}},
   {"width": 196, "height": 200, "title": "(d)Input and MTTE",
    "encoding": {
     "x": {"field": "t", "type": "quantitative", "scale": {"domain": [0, 5], "nice": false}, "axis": {"values": [0, 1, 2, 3, 4, 5], "title": null, "format": "~f", "labelOverlap": false}},
     "y": {"field": "v", "type": "quantitative", "scale": {"domain": [-10, 25], "nice": false}, "axis": {"values": [-10, -5, 0, 5, 10, 15, 20, 25], "title": "Nm", "format": "~f", "labelOverlap": false}}},
    "layer": [
     {"data": {"name": "c2up"}, "mark": {"type": "line", "clip": true, "strokeWidth": 1.1},
      "encoding": {
       "color": {"datum": "upitch", "type": "nominal", "scale": {"domain": ["upitch", "uvel", "τmax", "τ"], "range": ["#2a9fd8", "#ff7f50", "#ff0000", "#0000ff"]}, "legend": {"title": null, "orient": "top-left"}},
       "strokeDash": {"datum": "upitch", "type": "nominal", "scale": {"domain": ["upitch", "uvel", "τmax", "τ"], "range": [[1, 0], [6, 3, 1, 3], [1, 0], [8, 4]]}, "legend": {"title": null, "orient": "top-left"}}}},
     {"data": {"name": "c2uv"}, "mark": {"type": "line", "clip": true, "strokeWidth": 1},
      "encoding": {"color": {"datum": "uvel", "type": "nominal"}, "strokeDash": {"datum": "uvel", "type": "nominal"}}},
     {"data": {"name": "c2tm"}, "mark": {"type": "line", "clip": true, "strokeWidth": 2},
      "encoding": {"color": {"datum": "τmax", "type": "nominal"}, "strokeDash": {"datum": "τmax", "type": "nominal"}}},
     {"data": {"name": "c2ta"}, "mark": {"type": "line", "clip": true, "strokeWidth": 2.3},
      "encoding": {"color": {"datum": "τ", "type": "nominal"}, "strokeDash": {"datum": "τ", "type": "nominal"}}}
    ]}
  ]
 },
 {
  "title": {"text": "Case 3. Proposed method", "anchor": "start", "font": "Liberation Serif", "fontSize": 25, "fontWeight": "normal", "color": "#ff0000", "offset": 16, "dx": 8, "frame": "bounds"},
  "spacing": 18,
  "resolve": {"scale": {"color": "independent", "strokeDash": "independent"}, "legend": {"color": "independent", "strokeDash": "independent"}},
  "hconcat": [
   {"width": 196, "height": 200, "title": "(a) Pitch Angle", "data": {"name": "c3a"},
    "mark": {"type": "line", "color": "#2a9fd8", "strokeWidth": 1.1, "clip": true},
    "encoding": {
     "x": {"field": "t", "type": "quantitative", "scale": {"domain": [0, 8], "nice": false}, "axis": {"values": [0, 2, 4, 6, 8], "title": "time(sec)", "format": "~f", "labelOverlap": false}},
     "y": {"field": "v", "type": "quantitative", "scale": {"domain": [-2, 8], "nice": false}, "axis": {"values": [-2, 0, 2, 4, 6, 8], "title": "deg", "format": "~f", "labelOverlap": false}}}},
   {"width": 196, "height": 200, "title": {"text": "(b) Velocity", "offset": 3},
    "encoding": {
     "x": {"field": "t", "type": "quantitative", "scale": {"domain": [0, 8], "nice": false}, "axis": {"values": [0, 2, 4, 6, 8], "title": "time(sec)", "format": "~f", "labelOverlap": false}},
     "y": {"field": "v", "type": "quantitative", "scale": {"domain": [-0.5, 2.3], "nice": false}, "axis": {"values": [-0.5, 0, 0.5, 1, 1.5, 2], "title": "m/s", "format": "~f", "labelOverlap": false}}},
    "layer": [
     {"data": {"name": "c3vr"}, "mark": {"type": "line", "clip": true, "strokeWidth": 1.1},
      "encoding": {"color": {"datum": "Vref", "type": "nominal", "scale": {"domain": ["Vref", "Vwheel"], "range": ["#2a9fd8", "#ff0000"]}, "legend": {"title": null, "orient": "top-left"}}}},
     {"data": {"name": "c3vw"}, "mark": {"type": "line", "clip": true, "strokeWidth": 1.8},
      "encoding": {"color": {"datum": "Vwheel", "type": "nominal"}}}
    ]},
   {"width": 196, "height": 200, "title": "(c) Slip indicator", "data": {"name": "c3s"},
    "mark": {"type": "line", "color": "#1680c2", "strokeWidth": 1.1, "clip": true},
    "encoding": {
     "x": {"field": "t", "type": "quantitative", "scale": {"domain": [0, 8], "nice": false}, "axis": {"values": [0, 2, 4, 6, 8], "title": "time(sec)", "format": "~f", "labelOverlap": false}},
     "y": {"field": "v", "type": "quantitative", "scale": {"domain": [0, 0.5], "nice": false}, "axis": {"values": [0, 0.1, 0.2, 0.3, 0.4, 0.5], "title": null, "format": "~f", "labelOverlap": false, "minExtent": 46, "maxExtent": 46}}}},
   {"width": 196, "height": 200, "title": "(d)Input and MTTE",
    "encoding": {
     "x": {"field": "t", "type": "quantitative", "scale": {"domain": [0, 8], "nice": false}, "axis": {"values": [0, 2, 4, 6, 8], "title": "time(sec)", "format": "~f", "labelOverlap": false}},
     "y": {"field": "v", "type": "quantitative", "scale": {"domain": [-8, 6], "nice": false}, "axis": {"values": [-8, -6, -4, -2, 0, 2, 4, 6], "title": "Nm", "format": "~f", "labelOverlap": false}}},
    "layer": [
     {"data": {"name": "c3up"}, "mark": {"type": "line", "clip": true, "strokeWidth": 1.1},
      "encoding": {
       "color": {"datum": "upitch", "type": "nominal", "scale": {"domain": ["upitch", "uvel", "τmax", "τ"], "range": ["#2a9fd8", "#ff7f50", "#ff0000", "#0000ff"]}, "legend": {"title": null, "orient": "bottom-left", "columns": 2, "offset": 16}},
       "strokeDash": {"datum": "upitch", "type": "nominal", "scale": {"domain": ["upitch", "uvel", "τmax", "τ"], "range": [[1, 0], [6, 3, 1, 3], [1, 0], [8, 4]]}, "legend": {"title": null, "orient": "bottom-left", "columns": 2, "offset": 16}}}},
     {"data": {"name": "c3uv"}, "mark": {"type": "line", "clip": true, "strokeWidth": 1},
      "encoding": {"color": {"datum": "uvel", "type": "nominal"}, "strokeDash": {"datum": "uvel", "type": "nominal"}}},
     {"data": {"name": "c3tm"}, "mark": {"type": "line", "clip": true, "strokeWidth": 2},
      "encoding": {"color": {"datum": "τmax", "type": "nominal"}, "strokeDash": {"datum": "τmax", "type": "nominal"}}},
     {"data": {"name": "c3ta"}, "mark": {"type": "line", "clip": true, "strokeWidth": 2.3},
      "encoding": {"color": {"datum": "τ", "type": "nominal"}, "strokeDash": {"datum": "τ", "type": "nominal"}}}
    ]}
  ]
 }
]
}
